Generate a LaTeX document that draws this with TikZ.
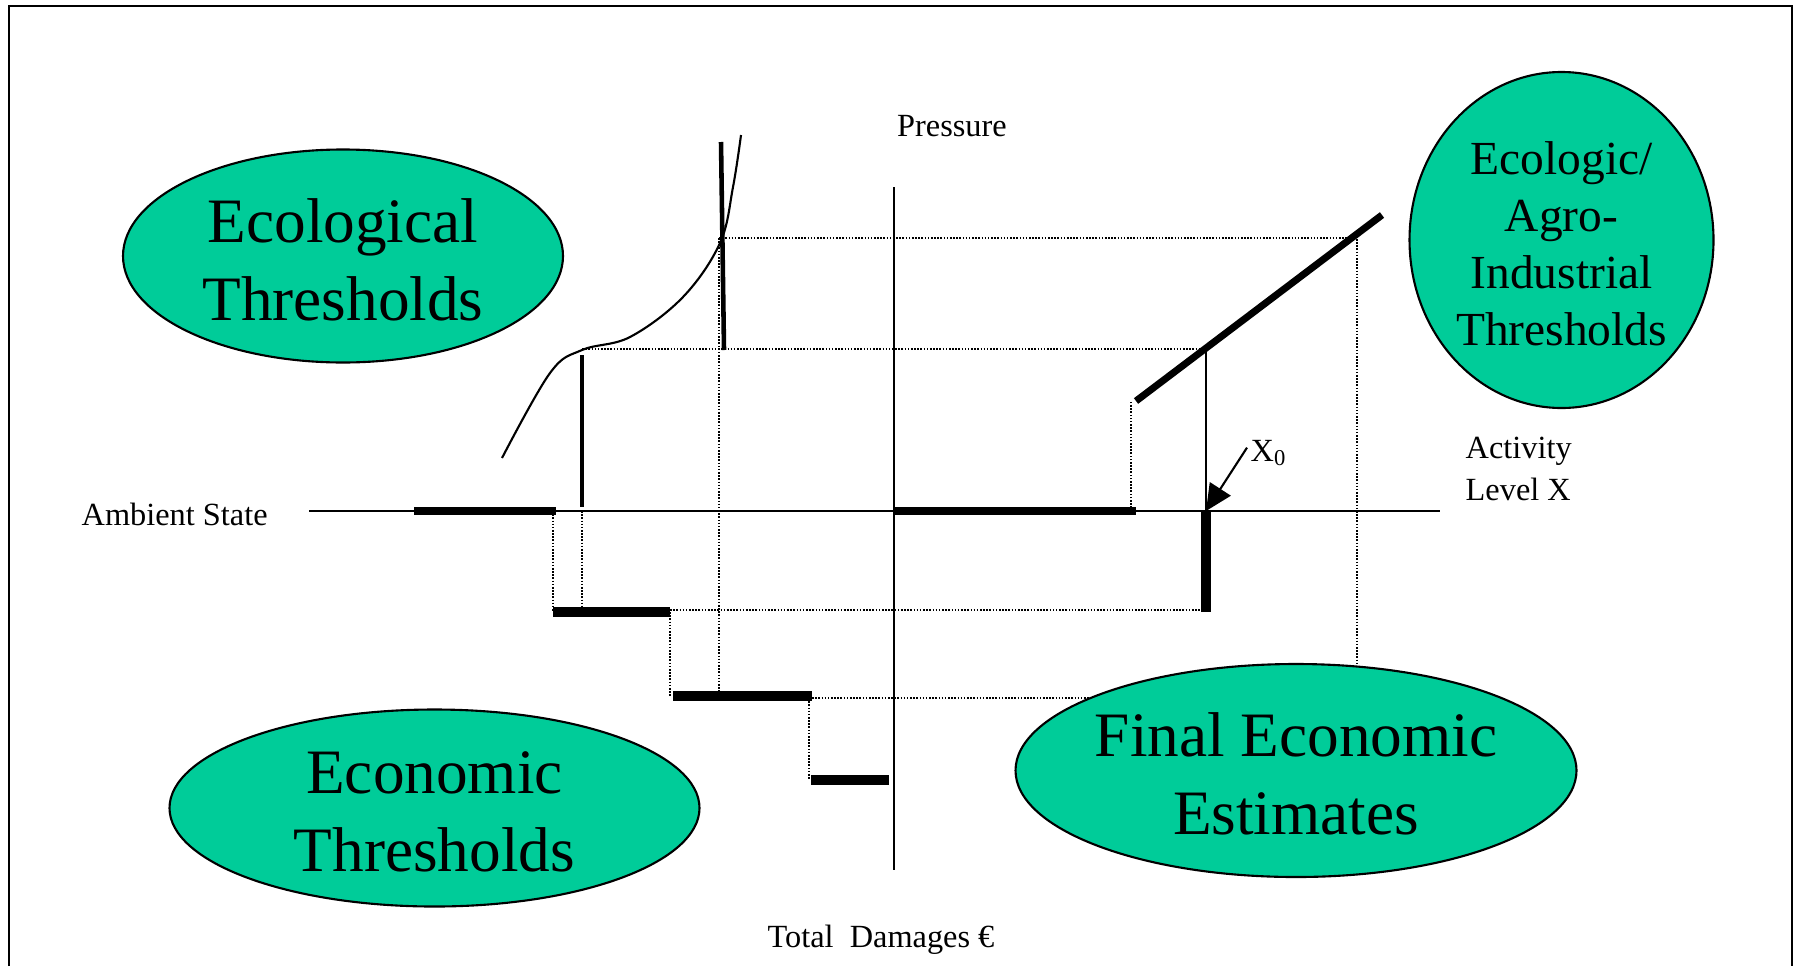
\documentclass[tikz,border=0pt]{standalone}
\usepackage{fontspec}
\setmainfont{Liberation Serif}
\usetikzlibrary{arrows.meta,shapes.geometric}
\definecolor{seagreen}{RGB}{0,204,153}
\tikzset{>=latex}
\tikzset{
  blob/.style={ellipse,draw,line width=0.6pt,fill=seagreen,inner sep=0pt},
  bigfont/.style={font=\fontsize{18}{22.2}\selectfont,align=center,yshift=-1pt},
  smallfont/.style={font=\fontsize{9.2}{12.2}\selectfont},
  guide/.style={line width=0.45pt,dash pattern=on 0.45pt off 0.45pt},
  bar/.style={line width=2.8pt},
}

\begin{document}
\begin{tikzpicture}[x=0.1mm,y=-0.1mm]
  \pgfmathsetmacro{\AxisY}{511};
  \pgfmathsetmacro{\StepA}{612};
  \pgfmathsetmacro{\StepB}{696};
  \pgfmathsetmacro{\StepC}{780};
  \useasboundingbox (0,0) rectangle (1795,966);
  % frame, open at the bottom
  \draw[line width=0.6pt] (9,966) -- (9,6) -- (1792,6) -- (1792,966);
  % 
  \coordinate (O) at (894,\AxisY);
  \coordinate (X0) at (1206,\AxisY);
  \draw[line width=0.6pt] (309,\AxisY) -- (1440,\AxisY);
  \draw[line width=0.6pt] (894,187) -- (894,870);
  % dotted guides
  \draw[guide] (582,349) -- (1206,349);
  \draw[guide] (719,238) -- (1357,238) -- (1357,700);
  \draw[guide] (1131,\AxisY) -- (1131,402);
  \draw[guide] (553,\AxisY) -- (553,\StepA);
  \draw[guide] (582,\AxisY) -- (582,\StepA);
  \draw[guide] (719,238) -- (719,\StepB);
  \draw[guide] (670,\StepA) -- (670,\StepB);
  \draw[guide] (670,610) -- (1206,610);
  \draw[guide] (812,698) -- (1200,698);
  \draw[guide] (809,698) -- (809,\StepC);
  % ecological response
  \draw[line width=0.6pt] plot[smooth,tension=0.6] coordinates {(502,458) (550,373) (582,350) (630,337) (683,297) (720,243) (733,187) (741,135)};
  \draw[line width=1.4pt] (582,355) -- (582,507);
  \draw[line width=1.3pt] (721,142) -- (724,350);
  % activity
  \draw[line width=2.3pt] (414,\AxisY) -- (556,\AxisY);
  \draw[line width=2.3pt] (O) -- (1136,\AxisY);
  \draw[line width=2pt] (1136,401) -- (1382,215);
  \draw[line width=0.45pt] (1206,349) -- (X0);
  \draw[bar] (X0) -- (1206,\StepA);
  % damage steps
  \draw[bar] (553,\StepA) -- (670,\StepA);
  \draw[bar] (673,\StepB) -- (812,\StepB);
  \draw[bar] (811,\StepC) -- (889,\StepC);
  % 
  \node[smallfont,inner sep=0pt,anchor=base west] (ambient) at (81,525) {Ambient State};
  \node[smallfont,inner sep=0pt,anchor=base] (pressure) at (952,136) {Pressure};
  \node[smallfont,inner sep=0pt,anchor=base] (damages) at (881,947) {Total\ \ Damages €};
  \node[smallfont,inner sep=0pt,anchor=north west,align=left] (activity) at (1465,436) {Activity\\Level X};
  \node[smallfont,inner sep=0pt,anchor=base west] (xzero) at (1250,461) {X\textsubscript{0}};
  \draw[-{Triangle[length=7.5pt,width=7pt]},line width=0.6pt] ([shift={(-3,-5)}]xzero.west) -- (X0);
  % 
  \node[blob,minimum width=4.40cm,minimum height=2.13cm] (ecol) at (343,256) {};
  \node[bigfont] at (ecol) {Ecological\\Thresholds};
  \node[blob,minimum width=5.30cm,minimum height=1.97cm] (econ) at (434.5,808) {};
  \node[bigfont] at (econ) {Economic\\Thresholds};
  \node[blob,minimum width=5.61cm,minimum height=2.13cm] (final) at (1296,770.5) {};
  \node[bigfont] at (final) {Final Economic\\Estimates};
  \node[blob,minimum width=3.04cm,minimum height=3.36cm] (agro) at (1561.5,240) {};
  \node[font=\fontsize{13.5}{16.2}\selectfont,align=center,yshift=-1pt] at (agro) {Ecologic/\\Agro-\\Industrial\\Thresholds};
\end{tikzpicture}
\end{document}
